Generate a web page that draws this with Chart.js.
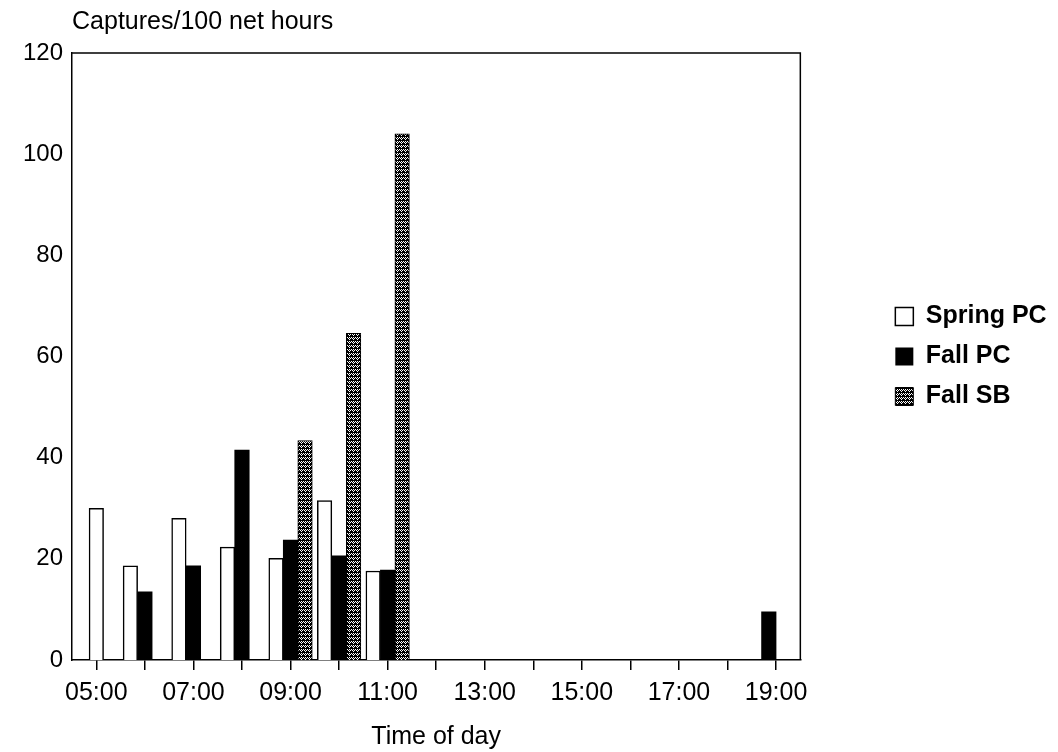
<!DOCTYPE html>
<html>
<head>
<meta charset="utf-8">
<title>Captures by time of day</title>
<script src="https://cdn.jsdelivr.net/npm/chart.js@4.4.1/dist/chart.umd.min.js"></script>
<style>
  body { margin: 0; background: #fff; }
  #chartDiv { width: 1058px; height: 752px; }
</style>
</head>
<body>
<div id="chartDiv"><canvas id="myChart"></canvas></div>
<script>
// hourly categories, labels shown every other hour
const hours = ['05:00', '06:00', '07:00', '08:00', '09:00', '10:00', '11:00', '12:00',
               '13:00', '14:00', '15:00', '16:00', '17:00', '18:00', '19:00'];

// captures / 100 net hours (null = no bar slot in that group)
const springPC = [30, 18.6, 28, 22.3, 20.1, 31.5, 17.6, 0, 0, 0, 0, 0, 0, 0, null];
const fallPC   = [null, 13.5, 18.6, 41.5, 23.7, 20.6, 17.8, 0, 0, 0, 0, 0, 0, 0, 9.5];
const fallSB   = [null, 0, 0, 0, 43.4, 64.6, 104, 0, 0, 0, 0, 0, 0, 0, 0];

const yMax = 120;
const yStep = 20;

const FONT = '"Liberation Sans", Arial, Helvetica, sans-serif';
Chart.defaults.font.family = FONT;
Chart.defaults.color = '#000';

var ctx = document.getElementById('myChart');

// speckled fill for the Fall SB bars
function makeSpeckle() {
  const p = document.createElement('canvas');
  p.width = 4; p.height = 4;
  const g = p.getContext('2d');
  g.fillStyle = '#000';
  g.fillRect(0, 0, 4, 4);
  g.fillStyle = '#fff';
  g.fillRect(1, 1, 1, 1); g.fillRect(3, 1, 1, 1);
  g.fillRect(0, 2, 1, 1); g.fillRect(2, 2, 1, 1);
  g.fillRect(1, 3, 1, 1);
  return g.createPattern(p, 'repeat');
}

const frame = {
  id: 'frame',
  afterDatasetsDraw(chart) {
    const a = chart.chartArea, c = chart.ctx;
    c.save();
    c.strokeStyle = '#000';
    c.lineWidth = 1.5;
    c.beginPath();
    c.moveTo(a.left, a.top);
    c.lineTo(a.right, a.top);
    c.lineTo(a.right, a.bottom);
    c.stroke();
    c.restore();
  }
};

var options = {
  responsive: true,
  maintainAspectRatio: false,
  animation: false,
  skipNull: true,
  layout: { padding: { left: 22, right: 6, top: 0, bottom: 0 } },
  scales: {
    x: {
      offset: true,
      grid: { display: true, drawOnChartArea: false, drawTicks: true, tickLength: 10, offset: false, color: '#000', lineWidth: 1.5 },
      border: { display: true, color: '#000', width: 1.5 },
      ticks: {
        autoSkip: false, maxRotation: 0, padding: 8,
        font: { size: 25 },
        callback: (v, i) => (i % 2 === 0 ? hours[i] : '')
      },
      title: { display: true, text: 'Time of day', font: { size: 25 }, padding: { top: 6, bottom: 0 } }
    },
    y: {
      min: 0, max: yMax,
      grid: { display: false },
      border: { display: true, color: '#000', width: 1.5 },
      ticks: { stepSize: yStep, padding: 1, font: { size: 24 } }
    },
    spacer: {
      position: 'right',
      display: true,
      grid: { display: false },
      border: { display: false },
      ticks: { display: false },
      afterFit: s => { s.width = 80; }
    }
  },
  plugins: {
    title: {
      display: true, text: 'Captures/100 net hours', align: 'start', fullSize: false,
      font: { size: 25, weight: 'normal' }, padding: { top: 7, bottom: 16 }
    },
    legend: {
      position: 'right', align: 'center', fullSize: false,
      labels: { boxWidth: 18, boxHeight: 18, padding: 15, font: { size: 25, weight: 'bold' }, color: '#000' }
    },
    tooltip: { enabled: false }
  }
};

var data = [
  { label: 'Spring PC', data: springPC, backgroundColor: '#fff', borderColor: '#000', borderWidth: 1.5, barThickness: 14.5 },
  { label: 'Fall PC', data: fallPC, backgroundColor: '#000', borderColor: '#000', borderWidth: 0, barThickness: 14.5 },
  { label: 'Fall SB', data: fallSB, backgroundColor: makeSpeckle(), borderColor: '#000', borderWidth: 1, barThickness: 14.5 }
];

var StockChart = new Chart(ctx, {
  type: 'bar',
  data: { labels: hours, datasets: data },
  options: options,
  plugins: [frame]
});
</script>
</body>
</html>
